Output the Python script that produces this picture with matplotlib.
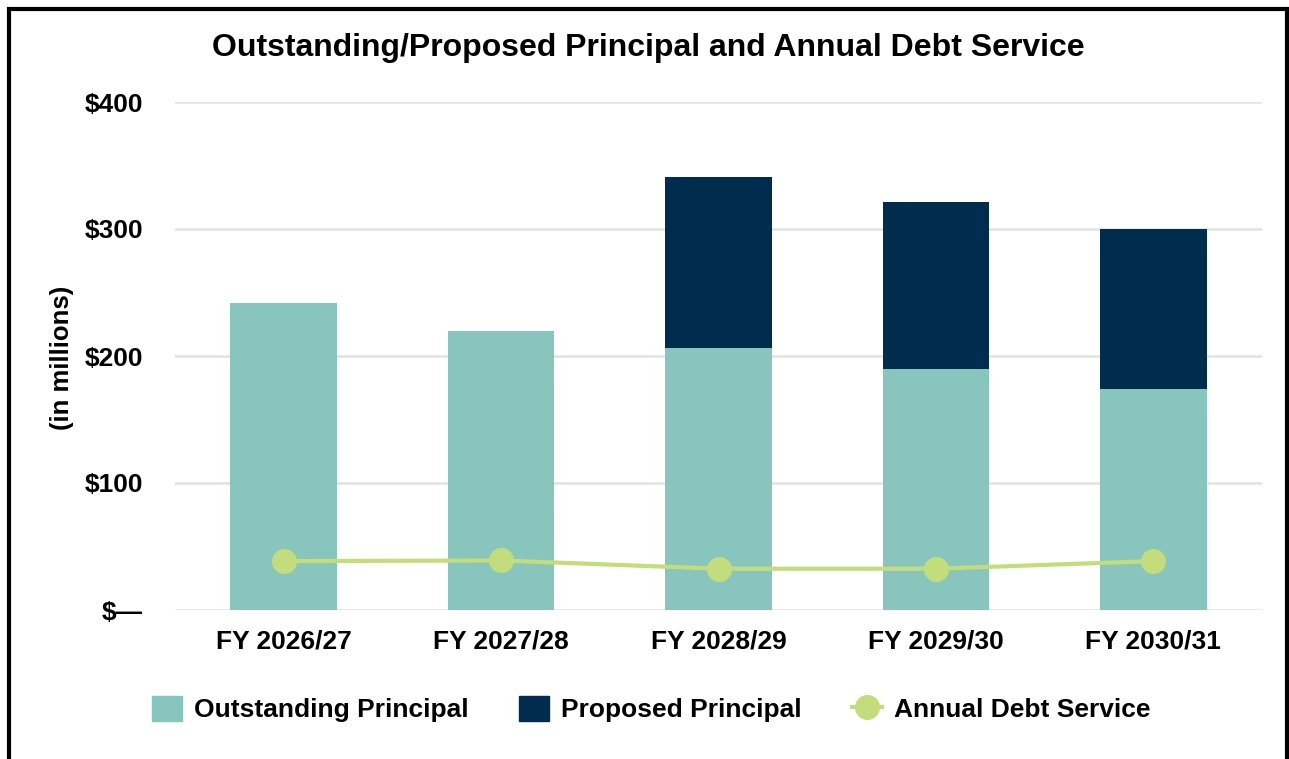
import numpy as np
import matplotlib.pyplot as plt
from matplotlib.patches import Rectangle
from matplotlib.lines import Line2D
from matplotlib.ticker import FuncFormatter

plt.rcParams['font.family'] = ['Liberation Sans', 'DejaVu Sans']
plt.rcParams['font.weight'] = 'bold'

years = ['FY 2026/27', 'FY 2027/28', 'FY 2028/29', 'FY 2029/30', 'FY 2030/31']
outstanding = [242, 220, 206, 190, 174]
proposed = [0, 0, 135, 131, 126]
debt_service = [38.5, 39, 32.5, 32.5, 38.5]

c_out = '#88C6BD'
c_prop = '#002D4E'
c_line = '#C3DC7C'

W, H = 1289, 759
fig = plt.figure(figsize=(W / 100, H / 100), dpi=100)
ax = fig.add_axes([175 / W, 1 - 610 / H, (1262 - 175) / W, (610 - 102) / H])

x = np.arange(len(years))
ax.bar(x, outstanding, width=0.49, color=c_out, zorder=2)
ax.bar(x, proposed, width=0.49, bottom=outstanding, color=c_prop, zorder=2)
ax.plot(x, debt_service, color=c_line, lw=3, marker='o', ms=17, zorder=3)

ax.set_xlim(-0.5, 4.5)
ax.set_ylim(0, 400)
ax.set_yticks([0, 100, 200, 300, 400])
ax.yaxis.set_major_formatter(FuncFormatter(lambda v, p: '$\u2014' if v == 0 else f'${v:.0f}'))
ax.set_xticks(x)
ax.set_xticklabels(years)
ax.tick_params(axis='both', length=0, labelsize=19)
ax.tick_params(axis='y', pad=23)
ax.tick_params(axis='x', pad=14)
ax.grid(axis='y', color='#E2E2E2', lw=1.8, zorder=0)
for s in ax.spines.values():
    s.set_visible(False)

fig.text(62 / W, 1 - 358 / H, '(in millions)', rotation=90, fontsize=18.5,
         fontweight='bold', ha='center', va='center')
fig.text(648 / W, 1 - 48 / H, 'Outstanding/Proposed Principal and Annual Debt Service',
         fontsize=23, fontweight='bold', ha='center', va='center')

handles = [Rectangle((0, 0), 1, 1, color=c_out),
           Rectangle((0, 0), 1, 1, color=c_prop),
           Line2D([], [], color=c_line, lw=3, marker='o', ms=17)]
labels = ['Outstanding Principal', 'Proposed Principal', 'Annual Debt Service']
fig.legend(handles, labels, loc='center', bbox_to_anchor=(651 / W, 1 - 709 / H),
           ncol=3, frameon=False, fontsize=19, handlelength=1.15, handleheight=1.1,
           columnspacing=1.9, handletextpad=0.45)

fig.patches.append(Rectangle((8.5 / W, -0.05), (1286.5 - 8.5) / W, 1.05 - 8.5 / H,
                             transform=fig.transFigure, fill=False, ec='black', lw=3))

fig.savefig('out.png', dpi=100)
